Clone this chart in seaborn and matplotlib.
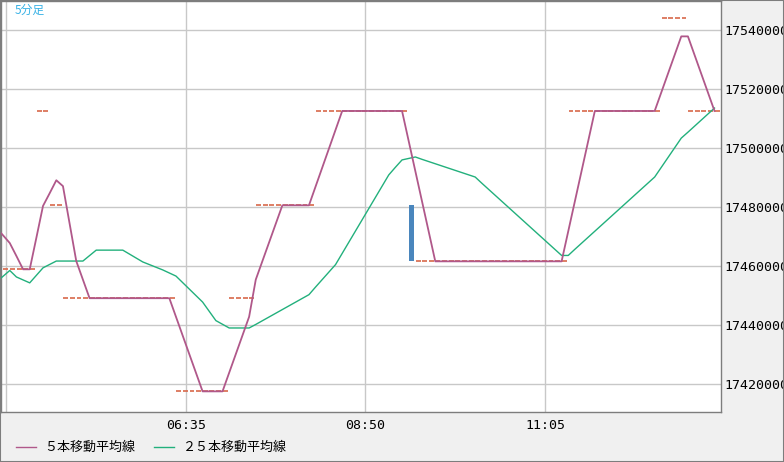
import matplotlib
matplotlib.use("Agg")
import matplotlib.pyplot as plt
import seaborn as sns
import pandas as pd
from matplotlib.lines import Line2D
from matplotlib.patches import Rectangle

# ---------------- data ----------------
chart_label = "5分足"
legend_labels = ["５本移動平均線", "２５本移動平均線"]

first_bar = "04:15"
last_bar = "13:10"
bar_minutes = 5

# step levels of the bar closes: (run start, price)
close_run_starts = ["04:15", "04:40", "04:50", "05:00", "06:25", "07:05",
                    "07:25", "08:10", "09:20", "11:20", "12:30", "12:50"]
close_run_levels = [17458900, 17512600, 17480600, 17449100, 17417500, 17449100,
                    17480600, 17512600, 17461600, 17512600, 17544200, 17512600]

# the one bar with a real body
body_bar = "09:20"
body_open = 17480600
body_close = 17461600

# 5-bar moving average (vertices)
ma5_times = ["04:10", "04:15", "04:20", "04:25", "04:30", "04:35", "04:40", "04:45",
             "04:50", "04:55", "05:00", "05:05", "05:10", "05:15", "05:20", "06:20",
             "06:45", "07:00", "07:20", "07:25", "07:45", "08:05", "08:30", "09:15",
             "09:40", "11:15", "11:40", "12:25", "12:45", "12:50", "13:10"]
ma5_values = [17472900, 17470400, 17467800, 17463400, 17458900, 17458900, 17469600, 17480400,
              17484700, 17489100, 17487100, 17474400, 17461700, 17455400, 17449100, 17449100,
              17417500, 17417500, 17442800, 17455400, 17480600, 17480600, 17512600, 17512600,
              17461600, 17461600, 17512600, 17512600, 17537900, 17537900, 17512600]

# 25-bar moving average (vertices)
ma25_times = ["04:10", "04:20", "04:25", "04:35", "04:45", "04:55", "05:15", "05:25",
              "05:45", "06:00", "06:15", "06:25", "06:45", "06:55", "07:05", "07:20",
              "07:25", "08:05", "08:10", "08:25", "08:30", "09:05", "09:10", "09:15",
              "09:20", "09:25", "09:30", "10:10", "10:15", "11:15", "11:20", "11:25",
              "12:25", "12:30", "12:45", "12:50", "13:10"]
ma25_values = [17454600, 17458500, 17456300, 17454300, 17459400, 17461700, 17461700, 17465400,
               17465400, 17461400, 17458700, 17456600, 17447800, 17441500, 17439000, 17439000,
               17440200, 17450300, 17452900, 17460500, 17464300, 17490900, 17493500, 17496000,
               17496500, 17497000, 17496200, 17490200, 17488100, 17463600, 17463600, 17465700,
               17490200, 17493500, 17503400, 17505400, 17513600]

y_ticks = [17420000, 17440000, 17460000, 17480000, 17500000, 17520000, 17540000]
x_tick_times = ["04:20", "06:35", "08:50", "11:05"]
x_tick_labels = ["", "06:35", "08:50", "11:05"]

# ---------------- helpers ----------------
def to_min(s):
    h, m = s.split(":")
    return int(h) * 60 + int(m)

HALF = bar_minutes / 2.0  # bars are drawn at the middle of their interval

bars = list(range(to_min(first_bar), to_min(last_bar) + 1, bar_minutes))
run_min = [to_min(s) for s in close_run_starts]
closes = []
for b in bars:
    lvl = None
    for rs, lv in zip(run_min, close_run_levels):
        if rs <= b:
            lvl = lv
    closes.append(lvl)
candles = pd.DataFrame({"x": [b + HALF for b in bars], "close": closes,
                        "bar": bars})

ma5 = pd.DataFrame({"x": [to_min(t) + HALF for t in ma5_times], "v": ma5_values})
ma25 = pd.DataFrame({"x": [to_min(t) + HALF for t in ma25_times], "v": ma25_values})

# ---------------- style ----------------
C5 = "#b0588a"
C25 = "#22b07c"
CDASH = "#d8684a"
CBODY = "#4a86bd"
GRID = "#c8c8c8"
FRAME = "#7d7d7d"

W, H = 784, 462
fig = plt.figure(figsize=(W / 100, H / 100), dpi=100, facecolor="#f0f0f0")
ax = fig.add_axes([1 / W, (H - 412.3) / H, 719.5 / W, 411.3 / H])
ax.set_facecolor("white")

# candles (flat ones are short dashes)
flat = candles[candles["bar"] != to_min(body_bar)]
ax.hlines(flat["close"], flat["x"] + 0.2, flat["x"] + 3.9, color=CDASH, lw=1.2, zorder=2)
bx = to_min(body_bar) + HALF
ax.bar([bx + 2.0], [body_open - body_close], bottom=[body_close], width=3.9,
       color=CBODY, linewidth=0, zorder=2)

sns.lineplot(data=ma25, x="x", y="v", color=C25, lw=1.0, ax=ax, zorder=3, legend=False)
sns.lineplot(data=ma5, x="x", y="v", color=C5, lw=1.3, ax=ax, zorder=4, legend=False)

ax.set_xlim(255.9, 797.0)
ax.set_ylim(17410400, 17549900)

ax.set_xticks([to_min(t) for t in x_tick_times])
ax.set_xticklabels(x_tick_labels)
ax.set_yticks(y_ticks)
ax.set_yticklabels([str(v) for v in y_ticks])
ax.yaxis.tick_right()
ax.tick_params(axis="both", length=0, labelsize=9.5, colors="black")
ax.tick_params(axis="x", pad=4.5)
ax.tick_params(axis="y", pad=2.5)
for lab in ax.get_xticklabels() + ax.get_yticklabels():
    lab.set_family("DejaVu Sans Mono")
ax.set_xlabel("")
ax.set_ylabel("")
ax.grid(True, color=GRID, lw=1.0)
ax.set_axisbelow(True)
for sp in ax.spines.values():
    sp.set_color(FRAME)
    sp.set_linewidth(1.0)

# figure border
fig.add_artist(Rectangle((0, 0), 1, 1, transform=fig.transFigure, fill=False,
                         ec=FRAME, lw=1.5, zorder=10))

fig.text(15 / W, 1 - 10.5 / H, chart_label, ha="left", va="center", color="#38b2e6",
         fontsize=8.5, family=["Noto Sans CJK JP", "DejaVu Sans"])

handles = [Line2D([], [], color=C5, lw=1.0), Line2D([], [], color=C25, lw=1.0)]
fig.legend(handles, legend_labels, loc="center left",
           bbox_to_anchor=(16 / W, 1 - 447.7 / H), ncol=2, frameon=False,
           borderpad=0, borderaxespad=0, handlelength=1.55, handletextpad=0.62,
           columnspacing=1.45,
           prop={"family": ["Noto Sans CJK JP", "DejaVu Sans"], "size": 9.4})

fig.savefig("out.png", dpi=100, facecolor=fig.get_facecolor())
